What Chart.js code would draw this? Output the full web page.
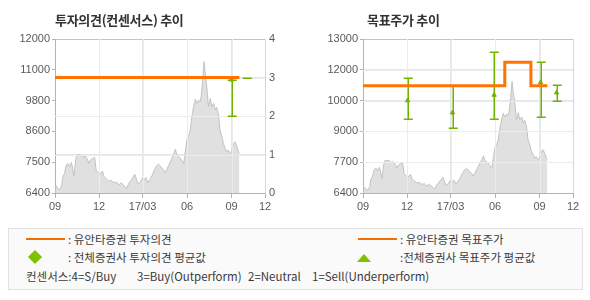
<!DOCTYPE html>
<html><head><meta charset="utf-8">
<script src="https://cdn.jsdelivr.net/npm/chart.js@4.4.0/dist/chart.umd.min.js"></script>
<style>
html,body{margin:0;padding:0;background:#fff;width:590px;height:300px;overflow:hidden;font-family:"Noto Sans CJK KR","Noto Sans",sans-serif;}
canvas{position:absolute;top:0;}
#c1{left:0;}
#c2{left:295px;}
.title{position:absolute;font-weight:bold;font-size:13px;color:#333;line-height:16px;white-space:nowrap;letter-spacing:-0.3px;}
.box{position:absolute;left:8px;top:228px;width:573px;height:60px;border:1px solid #e2e2e2;background:#fafafa;}
.lg{position:absolute;font-size:11.5px;color:#3a3a3a;line-height:14px;white-space:nowrap;}
.oline{position:absolute;height:2px;background:#f07000;}
.diamond{position:absolute;width:10px;height:10px;background:#7fc000;transform:rotate(45deg);}
.tri{position:absolute;width:0;height:0;border-left:7px solid transparent;border-right:7px solid transparent;border-bottom:8px solid #7fc000;}
</style></head>
<body>
<canvas id="c1" width="295" height="215"></canvas>
<canvas id="c2" width="295" height="215"></canvas>
<div class="title" style="left:55px;top:12px;">투자의견(컨센서스) 추이</div>
<div class="title" style="left:367px;top:12px;">목표주가 추이</div>
<div class="box"></div>
<div class="oline" style="left:26px;top:238px;width:39px;"></div>
<div class="lg" style="left:68px;top:232px;">: 유안타증권 투자의견</div>
<div class="diamond" style="left:30px;top:252px;"></div>
<div class="lg" style="left:68px;top:250px;">: 전체증권사 투자의견 평균값</div>
<div class="oline" style="left:358px;top:238px;width:39px;"></div>
<div class="lg" style="left:400px;top:232px;">: 유안타증권 목표주가</div>
<div class="tri" style="left:357px;top:254px;"></div>
<div class="lg" style="left:400px;top:250px;">:전체증권사 목표주가 평균값</div>
<div class="lg" style="left:26px;top:269px;">컨센서스:4=S/Buy</div>
<div class="lg" style="left:137px;top:269px;">3=Buy(Outperform)</div>
<div class="lg" style="left:248px;top:269px;">2=Neutral</div>
<div class="lg" style="left:312px;top:269px;">1=Sell(Underperform)</div>
<script>
// ---- data ----
const xTickDays = [0, 91, 181, 273, 365, 434];
const xTickLabels = ['09', '12', '17/03', '06', '09', '12'];

const priceDays = [1,5,10,14,16,20,23,27,30,34,36,39,43,45,49,54,58,63,67,70,73,77,82,85,89,93,98,101,106,111,116,122,127,132,137,142,148,152,157,161,165,168,171,175,180,183,188,192,197,201,205,209,214,219,225,228,231,235,238,242,245,249,252,257,262,266,268,271,273,276,279,282,284,288,290,293,297,300,302,305,307,308,310,314,317,321,324,328,331,334,338,341,345,348,352,355,358,362,365,369,372,376,379,381];
const priceValues = [6700,6580,6520,6680,6980,7130,7410,7470,7350,7510,7350,7010,7620,7780,7800,7780,7710,7740,7630,7470,7590,7650,7690,7230,7130,7080,7200,7010,6920,6830,6860,6770,6800,6700,6770,6680,6560,6740,6860,6960,7080,6920,6740,6770,6920,6860,6960,6770,6920,7050,7230,7370,7450,7350,7230,7130,7250,7410,7520,7690,7810,7990,7780,7710,7590,7470,7710,8120,8380,8470,8630,9050,9300,9660,9810,9660,9780,9720,9900,10450,10940,11180,10820,10210,9540,9840,9540,9660,9420,9520,9240,8690,8450,8200,8020,7900,7960,7840,7900,8200,8260,8080,7900,7860];

// left chart: opinion
const priceTicksL = [6400, 7520, 8640, 9760, 10880, 12000];
const priceLabelsL = ['6400', '7500', '8600', '9800', '11000', '12000'];
const opinionDays = [0, 381];
const opinionValues = [3, 3];
const opAvgDays = [365, 397];
const opAvgLow = [2, 3];
const opAvgHigh = [2.94, 3];
const opAvgMean = [2.94, null];

// right chart: target price
const priceTicksR = [6400, 7720, 9040, 10360, 11680, 13000];
const priceLabelsR = ['6400', '7700', '9000', '10000', '12000', '13000'];
const targetDays = [0, 293, 347, 381];
const targetValues = [11000, 12000, 11000, 11000];
const tpAvgDays = [92, 185, 271, 367, 400];
const tpAvgLow = [9570, 9180, 9570, 9640, 10330];
const tpAvgHigh = [11310, 10990, 12440, 12010, 11010];
const tpAvgMean = [10360, 9840, 10600, 11140, 10700];

// ---- styles ----
const ORANGE = '#ff7400';
const GREEN = '#72b300';
const GRID = '#e6e6e6';
const AXIS = '#b3b3b3';
const TICKFONT = {family: 'Liberation Sans', size: 11};
const TICKCOL = '#5a5a5a';

const pts = (xs, ys) => xs.map((x, i) => ({x, y: ys[i]})).filter(p => p.y !== null);

const overlayPlugin = {
  id: 'overlay',
  afterDatasetDraw(chart, args, opts) {
    if (args.index !== 0) return;
    const ctx = chart.ctx, a = chart.chartArea;
    const xs = chart.scales.x, ys = chart.scales[opts.axis];
    ctx.save();
    ctx.strokeStyle = '#ececec';
    ctx.lineWidth = 1;
    ctx.beginPath();
    xs.ticks.forEach((t, i) => {
      if (i === 0 || i === xs.ticks.length - 1) return;
      const x = Math.round(xs.getPixelForValue(t.value)) + 0.5;
      ctx.moveTo(x, a.top); ctx.lineTo(x, a.bottom);
    });
    ys.ticks.forEach((t, i) => {
      if (i === 0 || i === ys.ticks.length - 1) return;
      const y = Math.round(ys.getPixelForValue(t.value)) + 0.5;
      ctx.moveTo(a.left, y); ctx.lineTo(a.right, y);
    });
    ctx.stroke();
    ctx.strokeStyle = GREEN;
    ctx.lineWidth = 1.5;
    opts.days.forEach((d, i) => {
      const x = Math.round(xs.getPixelForValue(d)) + 0.25;
      const yl = Math.round(ys.getPixelForValue(opts.low[i])) + 0.25;
      const yh = Math.round(ys.getPixelForValue(opts.high[i])) + 0.25;
      ctx.beginPath();
      ctx.moveTo(x, yl); ctx.lineTo(x, yh);
      ctx.moveTo(x - 4.5, yl); ctx.lineTo(x + 4.5, yl);
      ctx.moveTo(x - 4.5, yh); ctx.lineTo(x + 4.5, yh);
      ctx.stroke();
    });
    ctx.restore();
  }
};

function xScale() {
  return {
    type: 'linear', min: 0, max: 434,
    afterBuildTicks: s => { s.ticks = xTickDays.map(v => ({value: v})); },
    afterFit: s => { s.height = 22; },
    ticks: {autoSkip: false, maxRotation: 0, font: TICKFONT, color: TICKCOL, padding: 2,
      callback: (v, i) => xTickLabels[i]},
    grid: {color: ctx => (ctx.tick && ctx.tick.value === 434) ? '#d6d6d6' : GRID, tickLength: 5, tickColor: AXIS},
    border: {color: AXIS}
  };
}

const common = {
  responsive: false, animation: false,
  plugins: {legend: {display: false}, tooltip: {enabled: false}},
  elements: {point: {radius: 0}}
};

new Chart(document.getElementById('c1'), {
  type: 'line',
  data: {datasets: [
    {data: pts(priceDays, priceValues), yAxisID: 'yP', fill: 'start', backgroundColor: '#e0e0e0',
      borderColor: '#c2c2c2', borderWidth: 1, pointRadius: 0, order: 3},
    {type: 'scatter', data: pts(opAvgDays, opAvgMean), yAxisID: 'yO', pointStyle: 'triangle',
      pointRadius: 2.5, backgroundColor: GREEN, borderColor: GREEN, borderWidth: 1, order: 2},
    {data: pts(opinionDays, opinionValues), yAxisID: 'yO', borderColor: ORANGE, borderWidth: 3,
      pointRadius: 0, fill: false, order: 1}
  ]},
  options: Object.assign({}, common, {
    layout: {padding: {top: 39, right: 0, left: 0, bottom: 0}},
    plugins: Object.assign({}, common.plugins, {overlay: {axis: 'yO', days: opAvgDays, low: opAvgLow, high: opAvgHigh}}),
    scales: {
      x: xScale(),
      yP: {
        position: 'left', min: 6400, max: 12000,
        afterBuildTicks: s => { s.ticks = priceTicksL.map(v => ({value: v})); },
        afterFit: s => { s.width = 55; },
        ticks: {font: TICKFONT, color: TICKCOL, padding: 2, callback: (v, i) => priceLabelsL[i]},
        grid: {drawOnChartArea: false, tickLength: 3, tickColor: AXIS},
        border: {color: AXIS}
      },
      yO: {
        position: 'right', min: 0, max: 4,
        afterBuildTicks: s => { s.ticks = [0, 1, 2, 3, 4].map(v => ({value: v})); },
        afterFit: s => { s.width = 30; },
        ticks: {font: TICKFONT, color: TICKCOL, padding: 4},
        grid: {color: ctx => (ctx.tick && ctx.tick.value === 4) ? '#c4c4c4' : GRID, drawTicks: false},
        border: {color: '#d6d6d6'}
      }
    }
  }),
  plugins: [overlayPlugin]
});

new Chart(document.getElementById('c2'), {
  type: 'line',
  data: {datasets: [
    {data: pts(priceDays, priceValues), yAxisID: 'y', fill: 'start', backgroundColor: '#e0e0e0',
      borderColor: '#c2c2c2', borderWidth: 1, pointRadius: 0, order: 3},
    {type: 'scatter', data: pts(tpAvgDays, tpAvgMean), yAxisID: 'y', pointStyle: 'triangle',
      pointRadius: 2.5, backgroundColor: GREEN, borderColor: GREEN, borderWidth: 1, order: 2},
    {data: pts(targetDays, targetValues), yAxisID: 'y', borderColor: ORANGE, borderWidth: 3,
      stepped: 'before', pointRadius: 0, fill: false, order: 1}
  ]},
  options: Object.assign({}, common, {
    layout: {padding: {top: 39, right: 17, left: 0, bottom: 0}},
    plugins: Object.assign({}, common.plugins, {overlay: {axis: 'y', days: tpAvgDays, low: tpAvgLow, high: tpAvgHigh}}),
    scales: {
      x: xScale(),
      y: {
        position: 'left', min: 6400, max: 13000,
        afterBuildTicks: s => { s.ticks = priceTicksR.map(v => ({value: v})); },
        afterFit: s => { s.width = 68; },
        ticks: {font: TICKFONT, color: TICKCOL, padding: 2, callback: (v, i) => priceLabelsR[i]},
        grid: {color: ctx => (ctx.tick && ctx.tick.value === 13000) ? '#c4c4c4' : GRID, tickLength: 3, tickColor: AXIS},
        border: {color: AXIS}
      }
    }
  }),
  plugins: [overlayPlugin]
});
</script>
</body></html>
